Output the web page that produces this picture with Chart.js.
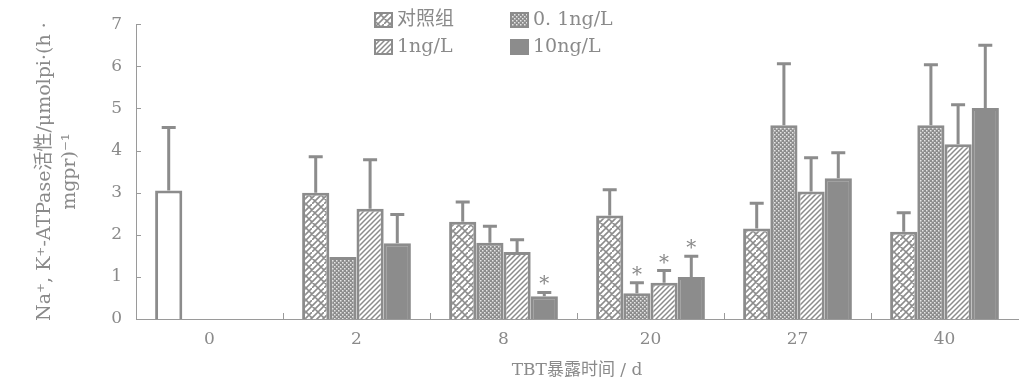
<!DOCTYPE html>
<html>
<head>
<meta charset="utf-8">
<script src="https://cdn.jsdelivr.net/npm/chart.js@4"></script>
<style>
  html, body { margin: 0; padding: 0; background: #fff; }
  #wrap { width: 1019px; height: 385px; position: relative; }
</style>
</head>
<body>
<div id="wrap"><canvas id="myChart" width="1019" height="385"></canvas></div>
<script>
// data
var days = ['0', '2', '8', '20', '27', '40']
var seriesNames = ['对照组', '0. 1ng/L', '1ng/L', '10ng/L']
var control = [3.05, 3.0, 2.31, 2.46, 2.15, 2.07]
var controlSd = [1.5, 0.85, 0.47, 0.61, 0.6, 0.45]
var low = [null, 1.47, 1.81, 0.61, 4.6, 4.6]
var lowSd = [null, 0, 0.39, 0.25, 1.46, 1.44]
var mid = [null, 2.62, 1.59, 0.86, 3.03, 4.15]
var midSd = [null, 1.16, 0.29, 0.29, 0.8, 0.94]
var high = [null, 1.8, 0.54, 1.0, 3.34, 5.01]
var highSd = [null, 0.68, 0.09, 0.49, 0.61, 1.49]
var lowStar = [0, 0, 0, 1, 0, 0]
var midStar = [0, 0, 0, 1, 0, 0]
var highStar = [0, 0, 1, 1, 0, 0]
var yTicks = [0, 1, 2, 3, 4, 5, 6, 7]

var gray = '#8c8c8c'
var textGray = '#8a8a8a'
var serif = '"DejaVu Serif", "Noto Sans CJK SC", serif'

function makeTile(w, h, draw) {
    var c = document.createElement('canvas')
    c.width = w
    c.height = h
    var g = c.getContext('2d')
    draw(g)
    return document.getElementById('myChart').getContext('2d').createPattern(c, 'repeat')
}

// zigzag bricks for the control
var brick = makeTile(12, 12, function(g){
    g.fillStyle = '#fff'
    g.fillRect(0, 0, 12, 12)
    g.strokeStyle = gray
    g.lineWidth = 1.6
    g.beginPath()
    g.moveTo(0, 12); g.lineTo(12, 0)
    g.moveTo(-6, 12); g.lineTo(6, 0)
    g.moveTo(6, 12); g.lineTo(18, 0)
    g.moveTo(3, 9); g.lineTo(9, 15)
    g.moveTo(9, 3); g.lineTo(15, 9)
    g.moveTo(-3, 3); g.lineTo(3, 9)
    g.moveTo(3, -3); g.lineTo(9, 3)
    g.stroke()
})
// fine dots
var dots = makeTile(4, 4, function(g){
    g.fillStyle = gray
    g.fillRect(0, 0, 4, 4)
    g.fillStyle = '#e6e6e6'
    g.fillRect(0, 0, 1.5, 1.5)
    g.fillRect(2, 2, 1.5, 1.5)
})
// dense diagonal hatch
var hatch = makeTile(5, 5, function(g){
    g.fillStyle = '#fff'
    g.fillRect(0, 0, 5, 5)
    g.strokeStyle = gray
    g.lineWidth = 1.5
    g.beginPath()
    g.moveTo(0, 5); g.lineTo(5, 0)
    g.moveTo(-5, 5); g.lineTo(5, -5)
    g.moveTo(0, 10); g.lineTo(10, 0)
    g.stroke()
})

// day 0 control bar is drawn empty
var controlFill = days.map(function(d, i){ return i == 0 ? '#fff' : brick })

var sds = [controlSd, lowSd, midSd, highSd]
var stars = [null, lowStar, midStar, highStar]

var errorBars = {
    id: 'errorBars',
    afterDatasetsDraw: function(chart) {
        var ctx = chart.ctx
        var y = chart.scales.y
        ctx.save()
        ctx.strokeStyle = gray
        ctx.fillStyle = textGray
        ctx.lineWidth = 3
        ctx.font = '20px ' + serif
        ctx.textAlign = 'center'
        chart.data.datasets.forEach(function(ds, di){
            var meta = chart.getDatasetMeta(di)
            meta.data.forEach(function(bar, i){
                var v = ds.data[i]
                if (v == null) return
                var sd = sds[di][i] || 0
                var top = y.getPixelForValue(v + sd)
                if (sd > 0) {
                    ctx.beginPath()
                    ctx.moveTo(bar.x, bar.y)
                    ctx.lineTo(bar.x, top)
                    ctx.moveTo(bar.x - 7, top)
                    ctx.lineTo(bar.x + 7, top)
                    ctx.stroke()
                }
                if (stars[di] && stars[di][i]) {
                    ctx.fillText('*', bar.x, top - 2)
                }
            })
        })
        // inward ticks
        var x = chart.scales.x
        var area = chart.chartArea
        ctx.lineWidth = 1
        ctx.strokeStyle = '#9a9a9a'
        ctx.beginPath()
        yTicks.forEach(function(t){
            var py = Math.round(y.getPixelForValue(t)) + 0.5
            ctx.moveTo(area.left, py)
            ctx.lineTo(area.left + 5, py)
        })
        for (var k = 1; k < days.length; k++) {
            var px = Math.round((x.getPixelForValue(k - 1) + x.getPixelForValue(k)) / 2) + 0.5
            ctx.moveTo(px, area.bottom)
            ctx.lineTo(px, area.bottom - 6)
        }
        ctx.stroke()
        ctx.restore()
    }
}

var legend2x2 = {
    id: 'legend2x2',
    afterDraw: function(chart) {
        var ctx = chart.ctx
        var spots = [[375, 13], [511, 13], [375, 40], [511, 40]]
        var swatch = [brick, dots, hatch, gray]
        ctx.save()
        ctx.font = '19px ' + serif
        ctx.textBaseline = 'middle'
        chart.data.datasets.forEach(function(ds, i){
            var sx = spots[i][0], sy = spots[i][1]
            ctx.fillStyle = swatch[i]
            ctx.fillRect(sx, sy, 17, 14)
            ctx.strokeStyle = gray
            ctx.lineWidth = 2
            ctx.strokeRect(sx, sy, 17, 14)
            ctx.fillStyle = textGray
            ctx.fillText(ds.label, sx + 22, sy + 7)
        })
        ctx.restore()
    }
}

function barSet(label, data, fill) {
    return {
        label: label,
        data: data,
        backgroundColor: fill,
        borderColor: gray,
        borderWidth: 3,
        borderSkipped: 'bottom',
        categoryPercentage: 0.74,
        barPercentage: 1.0
    }
}

var ctx = document.getElementById('myChart')
var myChart = new Chart(ctx, {
    type: 'bar',
    data: {
        labels: days,
        datasets: [
            barSet(seriesNames[0], control, controlFill),
            barSet(seriesNames[1], low, dots),
            barSet(seriesNames[2], mid, hatch),
            barSet(seriesNames[3], high, gray)
        ]
    },
    options: {
        responsive: false,
        animation: false,
        layout: { padding: { top: 22, right: 1, left: 0, bottom: 0 } },
        plugins: {
            legend: { display: false },
            tooltip: { enabled: false }
        },
        scales: {
            x: {
                grid: { display: false, drawTicks: false },
                border: { color: '#9a9a9a', width: 1 },
                ticks: { color: textGray, font: { family: serif, size: 17 }, padding: 10 },
                title: {
                    display: true,
                    text: 'TBT暴露时间 / d',
                    color: textGray,
                    font: { family: serif, size: 17 },
                    padding: { top: 6 }
                },
                afterFit: function(s){ s.height = 66 }
            },
            y: {
                min: 0,
                max: 7,
                afterBuildTicks: function(s){ s.ticks = yTicks.map(function(v){ return { value: v } }) },
                grid: { display: false, drawTicks: false },
                border: { color: '#9a9a9a', width: 1 },
                ticks: { color: textGray, font: { family: serif, size: 17 }, padding: 14 },
                title: {
                    display: true,
                    text: ['Na⁺, K⁺-ATPase活性/μmolpi·(h ·', 'mgpr)⁻¹'],
                    color: textGray,
                    font: { family: serif, size: 19, lineHeight: 1.35 },
                    padding: { top: 32, bottom: 4 }
                },
                afterFit: function(s){ s.width = 136 }
            }
        }
    },
    plugins: [errorBars, legend2x2]
})
</script>
</body>
</html>
